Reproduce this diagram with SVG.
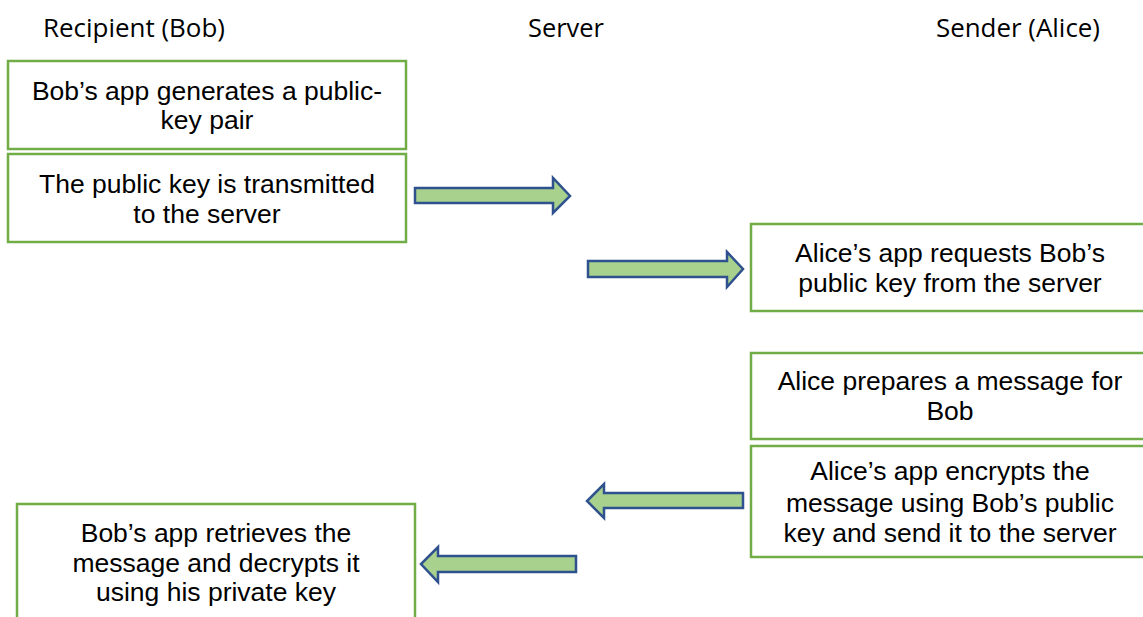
<svg xmlns="http://www.w3.org/2000/svg" width="1143" height="617" viewBox="0 0 1143 617">
  <style>
    .lane { font-family: "Open Sans", "Liberation Sans", sans-serif; font-size: 25.5px; fill: #000; }
    .box { fill: #fff; stroke: #70AD47; stroke-width: 2.5; }
    .label { font-family: "Liberation Sans", Arial, sans-serif; font-size: 26.5px; fill: #000; text-anchor: middle; }
    .arrow { fill: #A9D18E; stroke: #2F528F; stroke-width: 2.5; stroke-linejoin: miter; }
  </style>
  <defs>
    <clipPath id="encryptClip">
      <rect x="751" y="446" width="400" height="100"/>
    </clipPath>
  </defs>
  <rect width="1143" height="617" fill="#fff"/>

  <!-- swimlane headings -->
  <g id="lanes">
    <text class="lane" x="43" y="37" textLength="182" lengthAdjust="spacingAndGlyphs">Recipient (Bob)</text>
    <text class="lane" x="528" y="37" textLength="76" lengthAdjust="spacingAndGlyphs">Server</text>
    <text class="lane" x="936" y="37" textLength="164" lengthAdjust="spacingAndGlyphs">Sender (Alice)</text>
  </g>

  <!-- Bob: key generation -->
  <g id="bob-generate">
    <rect class="box" x="8" y="61" width="398" height="88"/>
    <text class="label" x="207" y="100">Bob’s app generates a public-</text>
    <text class="label" x="207" y="129">key pair</text>
  </g>

  <g id="bob-transmit">
    <rect class="box" x="8" y="154" width="398" height="88"/>
    <text class="label" x="207" y="193">The public key is transmitted</text>
    <text class="label" x="207" y="223">to the server</text>
  </g>

  <!-- Alice side -->
  <g id="alice-request">
    <rect class="box" x="751" y="224" width="398" height="87"/>
    <text class="label" x="950" y="262">Alice’s app requests Bob’s</text>
    <text class="label" x="950" y="292">public key from the server</text>
  </g>

  <g id="alice-prepare">
    <rect class="box" x="751" y="353" width="398" height="86"/>
    <text class="label" x="950" y="390">Alice prepares a message for</text>
    <text class="label" x="950" y="420">Bob</text>
  </g>

  <g id="alice-encrypt">
    <rect class="box" x="751" y="446" width="398" height="111"/>
    <g clip-path="url(#encryptClip)">
      <text class="label" x="950" y="480">Alice’s app encrypts the</text>
      <text class="label" x="950" y="512">message using Bob’s public</text>
      <text class="label" x="950" y="542">key and send it to the server</text>
    </g>
  </g>

  <!-- Bob: decryption -->
  <g id="bob-decrypt">
    <rect class="box" x="17" y="504" width="398" height="130"/>
    <text class="label" x="216" y="542">Bob’s app retrieves the</text>
    <text class="label" x="216" y="572">message and decrypts it</text>
    <text class="label" x="216" y="601">using his private key</text>
  </g>

  <!-- block arrows between lanes -->
  <g id="connectors">
    <polygon class="arrow" points="415,188 553,188 553,178 570,196 553,213 553,203 415,203"/>
    <polygon class="arrow" points="588,261 727,261 727,252 743,269 727,287 727,277 588,277"/>
    <polygon class="arrow" points="743,493 604,493 604,484 587,501 604,518 604,508 743,508"/>
    <polygon class="arrow" points="576,556 438,556 438,547 421,564 438,582 438,572 576,572"/>
  </g>
</svg>
